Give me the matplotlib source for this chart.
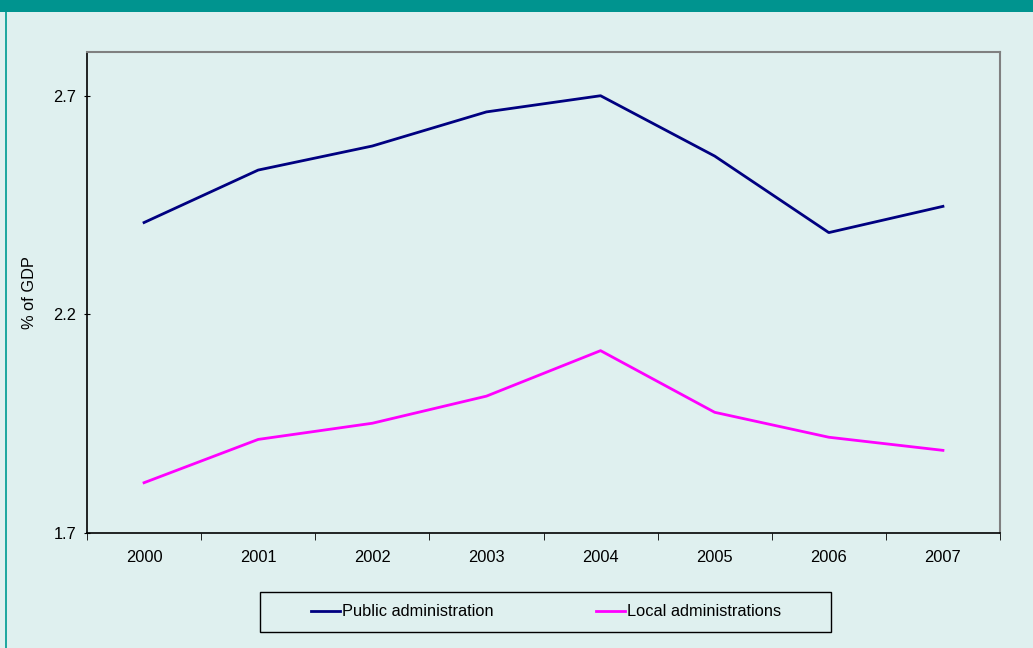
import matplotlib.pyplot as plt
import matplotlib.patches as mpatches
import numpy as np

plt.rcParams['font.family'] = ['Liberation Sans', 'DejaVu Sans']

years = ['2000', '2001', '2002', '2003', '2004', '2005', '2006', '2007']
public_admin = [2.41, 2.53, 2.585, 2.663, 2.70, 2.562, 2.387, 2.447]
local_admin = [1.815, 1.914, 1.951, 2.013, 2.117, 1.976, 1.919, 1.889]
yticks = [1.7, 2.2, 2.7]

bg = '#dff0ef'
teal = '#00948f'
W, H = 1033, 648
fs = 11.8

fig = plt.figure(figsize=(W / 100, H / 100), dpi=100, facecolor=bg)

# header band and left edge line
fig.patches.append(mpatches.Rectangle((0, 1 - 12 / H), 1, 12 / H, transform=fig.transFigure,
                                      facecolor=teal, edgecolor='none', zorder=0))
fig.patches.append(mpatches.Rectangle((5 / W, 0), 2 / W, 1 - 12 / H, transform=fig.transFigure,
                                      facecolor='#20a8a0', edgecolor='none', zorder=0))

ax = fig.add_axes([87 / W, 1 - 533 / H, 913 / W, 481 / H])
ax.set_facecolor(bg)

x = np.arange(len(years))
ax.plot(x, public_admin, color='#000080', linewidth=2, label='Public administration')
ax.plot(x, local_admin, color='#ff00ff', linewidth=2, label='Local administrations')

ax.set_xlim(-0.5, len(years) - 0.5)
ax.set_ylim(1.7, 2.8)

ax.set_xticks(x)
ax.set_xticklabels(years, fontsize=fs)
ax.set_xticks(np.arange(-0.5, len(years)), minor=True)
ax.tick_params(axis='x', which='major', length=0, pad=12)
ax.tick_params(axis='x', which='minor', length=5, direction='out', color='black')

ax.set_yticks(yticks)
ax.set_yticklabels([f'{v:.1f}' for v in yticks], fontsize=fs)
ax.tick_params(axis='y', length=5, direction='inout', color='black', pad=5)
ax.set_ylabel('% of GDP', fontsize=fs)
ax.yaxis.set_label_coords(-50 / 913, 0.5)

for side in ['top', 'right']:
    ax.spines[side].set_color('#808080')
    ax.spines[side].set_linewidth(1.5)
for side in ['left', 'bottom']:
    ax.spines[side].set_color('black')
    ax.spines[side].set_linewidth(1.2)

# legend box drawn separately, entries centred inside
fig.patches.append(mpatches.Rectangle((260 / W, 1 - 632 / H), 571 / W, 40 / H, transform=fig.transFigure,
                                      facecolor=bg, edgecolor='black', linewidth=1.0, zorder=1))
leg = fig.legend(loc='center', bbox_to_anchor=(546 / W, 1 - 612 / H), ncol=2,
                 fontsize=fs, frameon=False, handlelength=1.8,
                 handletextpad=0.12, columnspacing=6.2)

fig.savefig('out.png', dpi=100, facecolor=bg)
